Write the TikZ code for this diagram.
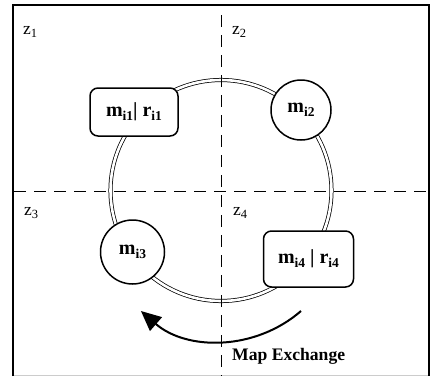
\documentclass[tikz,border=0pt]{standalone}
\usepackage{fontspec}
\setmainfont{Liberation Serif}
\usetikzlibrary{arrows.meta}
\newcommand\subsc[1]{\raisebox{-3.5pt}{\fontsize{13.5}{14}\selectfont #1}}
\newcommand\zsub[1]{\raisebox{-3pt}{\fontsize{12.5}{14}\selectfont #1}}
\begin{document}
\begin{tikzpicture}[x=1pt,y=-1pt,
  frameline/.style={line width=1.4pt},
  divider/.style={line width=0.8pt, dash pattern=on 12pt off 8pt},
  ring/.style={double, line width=0.75pt, double distance=2.6pt},
  recnode/.style={draw, fill=white, line width=1.5pt, rounded corners=8pt,
    inner sep=0pt, font=\fontsize{20}{22}\selectfont\bfseries},
  cirnode/.style={draw, fill=white, circle, line width=1.5pt, inner sep=0pt,
    font=\fontsize{20}{22}\selectfont\bfseries},
  zone/.style={font=\fontsize{17.5}{20}\selectfont, anchor=base west, inner sep=0pt},
  exarrow/.style={line width=2pt, -{Triangle[length=20pt,width=18pt]}},
]
\useasboundingbox (0,0) rectangle (431,376);
% frame
\coordinate (tl) at (13,5);
\coordinate (tr) at (429,5);
\coordinate (bl) at (13,376);
\coordinate (br) at (429,376);
\draw[frameline] (bl) -- (tl) -- (tr) -- (br);
\draw[line width=2.4pt] (13,5) -- (13,376);
\draw[line width=2.2pt] (124,5) -- (222,5);
\draw[gray!40, line width=0.8pt] (14,375.4) -- (428,375.4);
% dividers
\coordinate (vt) at (221,15);
\coordinate (vb) at (221,376);
\coordinate (hl) at (14,191);
\coordinate (hr) at (428,191);
% ring
\coordinate (rc) at (221,190.5);
\draw[ring] (rc) circle[radius=110.5];
\draw[divider] (vt) -- (vb);
\draw[divider] (hl) -- (hr);
% zone labels
\node[zone] (z1) at (23,34.5) {z\zsub{1}};
\node[zone] (z2) at (232,34) {z\zsub{2}};
\node[zone] (z3) at (24,215) {z\zsub{3}};
\node[zone] (z4) at (233,215) {z\zsub{4}};
% nodes
\node[recnode, minimum width=88pt, minimum height=48pt] (n1) at (134,112) {m\subsc{i1}| r\subsc{i1}};
\node[cirnode, minimum size=60pt] (n2) at (301,110) {m\subsc{i2}};
\node[cirnode, minimum size=64pt] (n3) at (132.5,252) {m\subsc{i3}};
\node[recnode, minimum width=90pt, minimum height=56pt] (n4) at (308.5,259) {m\subsc{i4} | r\subsc{i4}};
% map exchange arrow
\coordinate (mxs) at (301,311);
\draw[exarrow] (mxs) arc[start angle=49, end angle=131, radius=122];
\node[font=\fontsize{17.6}{20}\selectfont\bfseries, anchor=base west, inner sep=0pt] (mx) at (232,360) {Map Exchange};
\end{tikzpicture}
\end{document}
